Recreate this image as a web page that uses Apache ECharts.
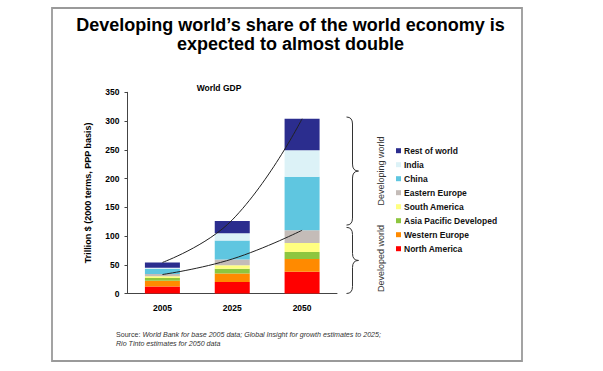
<!DOCTYPE html>
<html><head><meta charset="utf-8">
<script src="https://cdn.jsdelivr.net/npm/echarts@6/dist/echarts.min.js"></script>
<style>html,body{margin:0;padding:0;background:#fff}#c{width:603px;height:371px}</style>
</head><body><div id="c"></div>
<script>
// ---- data ----
const categories = ['2005', '2025', '2050'];
const northAmerica = [12, 20, 38];
const westernEurope = [10, 15, 22];
const asiaPacificDeveloped = [5, 8, 12];
const southAmerica = [3, 6, 16];
const easternEurope = [4, 10, 22];
const china = [9, 33, 93];
const india = [2, 13, 46];
const restOfWorld = [9, 21, 55];
const upperTrend = [54, 128, 304];
const lowerTrend = [33, 60, 110];
const yMin = 0, yMax = 350, yInterval = 50;
const braceDeveloping = [119, 307];
const braceDeveloped = [0, 115];

const FONT = '"Liberation Sans", Arial, Helvetica, sans-serif';
const chart = echarts.init(document.getElementById('c'), null, {renderer: 'svg'});

const barDefs = [
  ['North America', northAmerica, '#FF0000'],
  ['Western Europe', westernEurope, '#FF8A00'],
  ['Asia Pacific Developed', asiaPacificDeveloped, '#8DC63F'],
  ['South America', southAmerica, '#FFFF80'],
  ['Eastern Europe', easternEurope, '#C4BCB8'],
  ['China', china, '#5FC6E0'],
  ['India', india, '#DCF2F7'],
  ['Rest of world', restOfWorld, '#2B2D8E']
];

const series = barDefs.map(([name, data, color]) => ({
  name, type: 'bar', stack: 'gdp', data, barWidth: 35,
  itemStyle: {color}, silent: true
}));
[upperTrend, lowerTrend].forEach(d => series.push({
  type: 'line', data: d, smooth: 0.45, symbol: 'none', silent: true, z: 10,
  lineStyle: {color: '#222', width: 1}
}));

chart.setOption({
  animation: false,
  backgroundColor: '#fff',
  textStyle: {fontFamily: FONT},
  grid: {left: 127.5, top: 92.3, width: 209.5, height: 201.2},
  legend: {
    orient: 'vertical', left: 396, top: 145.7, padding: 0, itemWidth: 5, itemHeight: 5, itemGap: 4,
    icon: 'rect', selectedMode: false,
    data: barDefs.map(b => b[0]).reverse(),
    textStyle: {fontFamily: FONT, fontSize: 8.5, fontWeight: 'bold', color: '#111', lineHeight: 10, padding: [0, 0, 0, -2]}
  },
  xAxis: {
    type: 'category', data: categories,
    axisLine: {lineStyle: {color: '#444', width: 1}},
    axisTick: {length: 4, lineStyle: {color: '#444'}},
    axisLabel: {fontFamily: FONT, fontSize: 8.5, fontWeight: 'bold', color: '#000', margin: 10}
  },
  yAxis: {
    type: 'value', min: yMin, max: yMax, interval: yInterval,
    name: 'Trillion $ (2000 terms, PPP basis)', nameLocation: 'middle', nameGap: 35,
    nameTextStyle: {fontFamily: FONT, fontSize: 9, fontWeight: 'bold', color: '#000'},
    axisLine: {show: true, lineStyle: {color: '#444', width: 1}},
    axisTick: {show: true, length: 3, lineStyle: {color: '#444'}},
    splitLine: {show: false},
    axisLabel: {fontFamily: FONT, fontSize: 8.5, fontWeight: 'bold', color: '#000', margin: 8}
  },
  series
});

function py(v) { return chart.convertToPixel({yAxisIndex: 0}, v); }
const braceStyle = {fill: 'none', stroke: '#333', lineWidth: 1};
function braceElems(r) {
  const yT = py(r[1]), yB = py(r[0]), yM = (yT + yB) / 2;
  const x0 = 346.5, x1 = 352.5, x2 = 358.5, k = 7;
  const curve = (ax, ay, bx, by, cx, cy) => ({type: 'bezierCurve', silent: true,
    shape: {x1: ax, y1: ay, x2: bx, y2: by, cpx1: cx, cpy1: cy}, style: braceStyle});
  const line = (ax, ay, bx, by) => ({type: 'line', silent: true,
    shape: {x1: ax, y1: ay, x2: bx, y2: by}, style: braceStyle});
  return [
    curve(x0, yT, x1, yT + k, x1, yT),
    line(x1, yT + k, x1, yM - k),
    curve(x1, yM - k, x2, yM, x1, yM),
    curve(x2, yM, x1, yM + k, x1, yM),
    line(x1, yM + k, x1, yB - k),
    curve(x1, yB - k, x0, yB, x1, yB)
  ];
}
const midDev = py((braceDeveloping[0] + braceDeveloping[1]) / 2);
const midDvd = py((braceDeveloped[0] + braceDeveloped[1]) / 2);

chart.setOption({
  graphic: [
    {type: 'rect', silent: true, shape: {x: 52, y: 8, width: 470, height: 353},
     style: {fill: 'none', stroke: '#9a9a9a', lineWidth: 1.8}},
    {type: 'text', silent: true, x: 290.5, y: 25,
     style: {text: 'Developing world\u2019s share of the world economy is',
       font: 'bold 18px ' + FONT, fill: '#000', textAlign: 'center', textVerticalAlign: 'middle'}},
    {type: 'text', silent: true, x: 290.5, y: 43.5,
     style: {text: 'expected to almost double',
       font: 'bold 18px ' + FONT, fill: '#000', textAlign: 'center', textVerticalAlign: 'middle'}},
    {type: 'text', silent: true, x: 219, y: 87.5,
     style: {text: 'World GDP', font: 'bold 8.5px ' + FONT, fill: '#000', textAlign: 'center', textVerticalAlign: 'middle'}},
    ...braceElems(braceDeveloping),
    ...braceElems(braceDeveloped),
    {type: 'text', silent: true, x: 381, y: midDev, rotation: Math.PI / 2,
     style: {text: 'Developing world', font: '9px ' + FONT, fill: '#333', textAlign: 'center', textVerticalAlign: 'middle'}},
    {type: 'text', silent: true, x: 381, y: midDvd - 2, rotation: Math.PI / 2,
     style: {text: 'Developed world', font: '9px ' + FONT, fill: '#333', textAlign: 'center', textVerticalAlign: 'middle'}},
    {type: 'text', silent: true, x: 116, y: 331,
     style: {
       text: '{a|Source: }{b|World Bank for base 2005 data; Global Insight for growth estimates to 2025;}\n{b|Rio Tinto estimates for 2050 data}',
       rich: {
         a: {fontFamily: FONT, fontSize: 7.1, fill: '#333', lineHeight: 8.5},
         b: {fontFamily: FONT, fontSize: 7.1, fontStyle: 'italic', fill: '#333', lineHeight: 8.5}
       }
     }}
  ]
});
</script></body></html>
